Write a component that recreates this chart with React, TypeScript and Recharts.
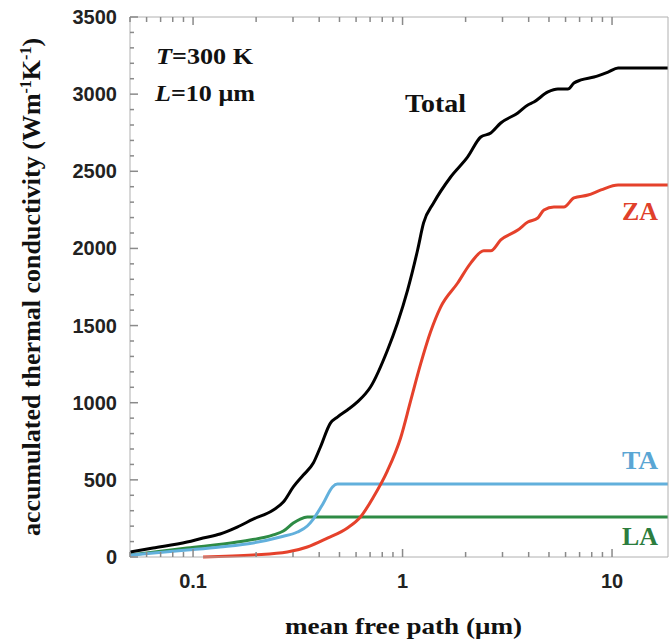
import { LineChart, Line, XAxis, YAxis } from "recharts";

// mean free path (um) and accumulated conductivity (W m^-1 K^-1)
const totalMfp = [0.05, 0.0644, 0.0936, 0.1116, 0.1346, 0.1624, 0.1936, 0.2415, 0.2697, 0.301, 0.336, 0.375, 0.4055, 0.4525, 0.4887, 0.5455, 0.6092, 0.703, 0.848, 0.946, 1.057, 1.18, 1.26, 1.406, 1.697, 2.046, 2.362, 2.637, 2.943, 3.55, 3.963, 4.236, 4.943, 5.515, 6.156, 6.58, 7.11, 8.2, 9.57, 10.69, 18.5];
const totalK = [32, 58, 97, 123, 149, 194, 245, 305, 356, 454, 531, 609, 713, 868, 907, 953, 1005, 1102, 1342, 1517, 1730, 1990, 2165, 2294, 2463, 2593, 2722, 2748, 2813, 2878, 2930, 2949, 3014, 3033, 3033, 3072, 3092, 3111, 3143, 3169, 3169];

const zaMfp = [0.1116, 0.1936, 0.2816, 0.351, 0.438, 0.5455, 0.6296, 0.7264, 0.848, 0.978, 1.092, 1.219, 1.361, 1.52, 1.833, 2.115, 2.442, 2.637, 2.943, 3.55, 3.963, 4.42, 4.73, 5.28, 5.89, 6.58, 7.68, 8.86, 10.69, 18.5];
const zaK = [0, 13, 32, 65, 123, 188, 259, 389, 560, 770, 1010, 1250, 1460, 1620, 1776, 1905, 1985, 1985, 2055, 2119, 2171, 2197, 2249, 2268, 2268, 2327, 2346, 2379, 2411, 2411];

const taMfp = [0.05, 0.0936, 0.1346, 0.1936, 0.261, 0.315, 0.351, 0.375, 0.419, 0.463, 0.4887, 18.5];
const taK = [13, 45, 65, 91, 130, 162, 201, 246, 350, 454, 473, 473];

const laMfp = [0.05, 0.0936, 0.1624, 0.2415, 0.2697, 0.301, 0.325, 0.351, 18.5];
const laK = [13, 58, 97, 143, 168, 220, 246, 259, 259];

const xTicks = [0.05, 0.06, 0.07, 0.08, 0.09, 0.1, 0.2, 0.3, 0.4, 0.5, 0.6, 0.7, 0.8, 0.9, 1, 2, 3, 4, 5, 6, 7, 8, 9, 10];
const xMajor = [0.1, 1, 10];
const yTicks = Array.from({ length: 36 }, (_, i) => i * 100);

const toPoints = (xs: number[], ys: number[]) => xs.map((x, i) => ({ x, y: ys[i] }));

const sans = "'Liberation Sans', Arial, sans-serif";
const serif = "'Liberation Serif', 'Times New Roman', serif";
const frame = "#b0b0b0";
const tickColor = "#8a8a8a";

const BottomTick = (props: any) => {
  const { x, y, payload } = props;
  const major = xMajor.includes(payload.value);
  return (
    <g>
      <line x1={x} x2={x} y1={y} y2={y - (major ? 8 : 5)} stroke={tickColor} strokeWidth={1.5} />
      {major && (
        <text x={x} y={y + 31} textAnchor="middle" fontFamily={sans} fontWeight="bold" fontSize={20} fill="#222">
          {payload.value}
        </text>
      )}
    </g>
  );
};

const TopTick = (props: any) => {
  const { x, y, payload } = props;
  const major = xMajor.includes(payload.value);
  return <line x1={x} x2={x} y1={y} y2={y + (major ? 8 : 5)} stroke={tickColor} strokeWidth={1.5} />;
};

const LeftTick = (props: any) => {
  const { x, y, payload } = props;
  const major = payload.value % 500 === 0;
  return (
    <g>
      <line x1={x} x2={x + (major ? 8 : 4)} y1={y} y2={y} stroke={tickColor} strokeWidth={1.5} />
      {major && (
        <text x={x - 13} y={y + 7} textAnchor="end" fontFamily={sans} fontWeight="bold" fontSize={20} fill="#222">
          {payload.value}
        </text>
      )}
    </g>
  );
};

const RightTick = (props: any) => {
  const { x, y, payload } = props;
  const major = payload.value % 500 === 0;
  return <line x1={x} x2={x - (major ? 8 : 4)} y1={y} y2={y} stroke={tickColor} strokeWidth={1.5} />;
};

export default function App() {
  return (
    <div style={{ position: "absolute", left: 0, top: 0, width: 669, height: 642, overflow: "hidden", background: "#fff" }}>
      <LineChart width={669} height={642} margin={{ top: 16, right: 0, bottom: 0, left: 0 }}>
        <XAxis
          xAxisId={0}
          dataKey="x"
          type="number"
          scale="log"
          domain={[0.05, 18.5]}
          allowDataOverflow
          ticks={xTicks}
          interval={0}
          tickSize={0}
          tickMargin={0}
          tickLine={false}
          height={85}
          stroke={frame}
          tick={<BottomTick />}
        />
        <XAxis
          xAxisId="top"
          orientation="top"
          dataKey="x"
          type="number"
          scale="log"
          domain={[0.05, 18.5]}
          allowDataOverflow
          ticks={xTicks}
          interval={0}
          tickSize={0}
          tickMargin={0}
          tickLine={false}
          height={1}
          stroke={frame}
          tick={<TopTick />}
        />
        <YAxis
          yAxisId={0}
          type="number"
          domain={[0, 3500]}
          ticks={yTicks}
          interval={0}
          tickSize={0}
          tickMargin={0}
          tickLine={false}
          width={130}
          stroke={frame}
          tick={<LeftTick />}
        />
        <YAxis
          yAxisId="right"
          orientation="right"
          type="number"
          domain={[0, 3500]}
          ticks={yTicks}
          interval={0}
          tickSize={0}
          tickMargin={0}
          tickLine={false}
          width={1}
          stroke={frame}
          tick={<RightTick />}
        />
        <Line data={toPoints(laMfp, laK)} dataKey="y" type="monotone" stroke="#2e8b45" strokeWidth={3} dot={false} isAnimationActive={false} />
        <Line data={toPoints(taMfp, taK)} dataKey="y" type="monotone" stroke="#62b0dc" strokeWidth={3} dot={false} isAnimationActive={false} />
        <Line data={toPoints(zaMfp, zaK)} dataKey="y" type="monotone" stroke="#e5412b" strokeWidth={3} dot={false} isAnimationActive={false} />
        <Line data={toPoints(totalMfp, totalK)} dataKey="y" type="monotone" stroke="#000" strokeWidth={3} dot={false} isAnimationActive={false} />
      </LineChart>
      <svg width={669} height={642} style={{ position: "absolute", left: 0, top: 0, pointerEvents: "none" }}>
        <g fontFamily={serif} fontWeight="bold" fill="#111">
          <text x={156} y={64} fontSize={23} textLength={97} lengthAdjust="spacingAndGlyphs">
            <tspan fontStyle="italic">T</tspan>=300 K
          </text>
          <text x={155} y={101} fontSize={23} textLength={100} lengthAdjust="spacingAndGlyphs">
            <tspan fontStyle="italic">L</tspan>=10 μm
          </text>
          <text x={405} y={112} fontSize={26} textLength={61} lengthAdjust="spacingAndGlyphs">Total</text>
          <text x={622} y={220} fontSize={25} fill="#e0402a" textLength={36} lengthAdjust="spacingAndGlyphs">ZA</text>
          <text x={622} y={469} fontSize={25} fill="#5aa6d4" textLength={36} lengthAdjust="spacingAndGlyphs">TA</text>
          <text x={622} y={545} fontSize={25} fill="#2c7d3e" textLength={36} lengthAdjust="spacingAndGlyphs">LA</text>
          <text x={285} y={634} fontSize={24} textLength={237} lengthAdjust="spacingAndGlyphs">mean free path (μm)</text>
          <text transform="translate(40, 287) rotate(-90)" fontSize={26} textAnchor="middle">
            accumulated thermal conductivity (Wm
            <tspan dy={-9} fontSize={16}>-1</tspan>
            <tspan dy={9}>K</tspan>
            <tspan dy={-9} fontSize={16}>-1</tspan>
            <tspan dy={9}>)</tspan>
          </text>
        </g>
      </svg>
    </div>
  );
}
